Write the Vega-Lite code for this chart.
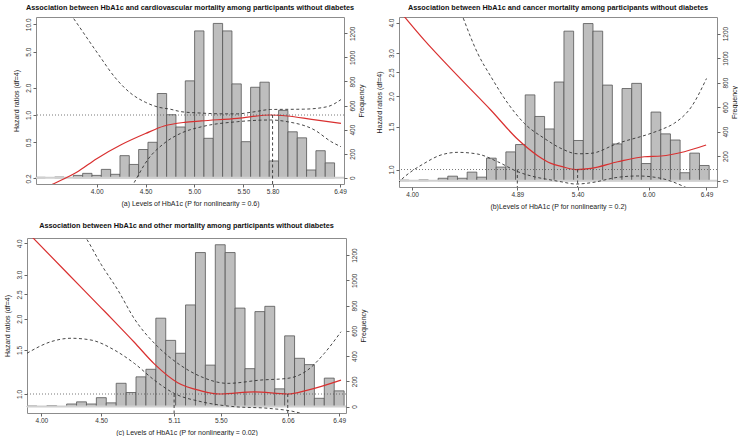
{
"$schema":"https://vega.github.io/schema/vega-lite/v6.json",
"padding":{"left":2,"top":3,"right":0,"bottom":0},
"background":"white",
"config":{
 "view":{"stroke":"#8c8c8c","strokeWidth":1},
 "font":"Liberation Sans",
 "axis":{"labelFont":"Liberation Sans","titleFont":"Liberation Sans","labelFontSize":6.5,"titleFontSize":7,"titleFontWeight":"normal","labelColor":"#333333","titleColor":"#222222","tickColor":"#666666","tickSize":3,"domain":false,"grid":false,"minExtent":0,"labelOverlap":false,"labelFlush":false},
 "title":{"font":"Liberation Sans","fontSize":7.3,"fontWeight":"bold","color":"#111111","anchor":"middle","frame":"group"}
},
"datasets":{
 "hist":[{"lo":3.3,"hi":3.4,"freq":4},{"lo":3.5,"hi":3.6,"freq":6},{"lo":3.7,"hi":3.8,"freq":20},{"lo":3.8,"hi":3.9,"freq":37},{"lo":3.9,"hi":4.0,"freq":20},{"lo":4.0,"hi":4.1,"freq":70},{"lo":4.1,"hi":4.2,"freq":29},{"lo":4.2,"hi":4.3,"freq":184},{"lo":4.3,"hi":4.4,"freq":111},{"lo":4.4,"hi":4.5,"freq":235},{"lo":4.5,"hi":4.6,"freq":295},{"lo":4.6,"hi":4.7,"freq":700},{"lo":4.7,"hi":4.8,"freq":524},{"lo":4.8,"hi":4.9,"freq":422},{"lo":4.9,"hi":5.0,"freq":805},{"lo":5.0,"hi":5.1,"freq":1220},{"lo":5.1,"hi":5.2,"freq":328},{"lo":5.2,"hi":5.3,"freq":1282},{"lo":5.3,"hi":5.4,"freq":1220},{"lo":5.4,"hi":5.5,"freq":780},{"lo":5.5,"hi":5.6,"freq":300},{"lo":5.6,"hi":5.7,"freq":752},{"lo":5.7,"hi":5.8,"freq":794},{"lo":5.8,"hi":5.9,"freq":140},{"lo":5.9,"hi":6.0,"freq":560},{"lo":6.0,"hi":6.1,"freq":382},{"lo":6.1,"hi":6.2,"freq":332},{"lo":6.2,"hi":6.3,"freq":65},{"lo":6.3,"hi":6.4,"freq":225},{"lo":6.4,"hi":6.5,"freq":124}],
 "zero":[{"freq":0}],
 "knots":[{"p":"a","x":5.80,"top":1,"bottom":0.1},{"p":"b","x":4.89,"top":1,"bottom":0.5},{"p":"b","x":5.40,"top":1,"bottom":0.5},{"p":"c","x":5.11,"top":1,"bottom":0.5},{"p":"c","x":6.06,"top":1,"bottom":0.5}],
 "curves":[
  {"p":"a","s":"est","x":3.40,"hr":0.145},{"p":"a","s":"est","x":3.566,"hr":0.176},{"p":"a","s":"est","x":3.80,"hr":0.235},{"p":"a","s":"est","x":4.00,"hr":0.33},{"p":"a","s":"est","x":4.25,"hr":0.47},{"p":"a","s":"est","x":4.50,"hr":0.625},{"p":"a","s":"est","x":4.69,"hr":0.756},{"p":"a","s":"est","x":4.90,"hr":0.83},{"p":"a","s":"est","x":5.07,"hr":0.86},{"p":"a","s":"est","x":5.44,"hr":0.92},{"p":"a","s":"est","x":5.78,"hr":1.0},{"p":"a","s":"est","x":5.95,"hr":0.975},{"p":"a","s":"est","x":6.20,"hr":0.897},{"p":"a","s":"est","x":6.50,"hr":0.81},
  {"p":"a","s":"upper","x":3.70,"hr":14.5},{"p":"a","s":"upper","x":3.754,"hr":12.0},{"p":"a","s":"upper","x":4.01,"hr":4.79},{"p":"a","s":"upper","x":4.20,"hr":2.5},{"p":"a","s":"upper","x":4.35,"hr":1.73},{"p":"a","s":"upper","x":4.50,"hr":1.38},{"p":"a","s":"upper","x":4.62,"hr":1.23},{"p":"a","s":"upper","x":4.76,"hr":1.155},{"p":"a","s":"upper","x":4.86,"hr":1.09},{"p":"a","s":"upper","x":5.07,"hr":1.05},{"p":"a","s":"upper","x":5.30,"hr":1.03},{"p":"a","s":"upper","x":5.44,"hr":1.03},{"p":"a","s":"upper","x":5.60,"hr":1.08},{"p":"a","s":"upper","x":5.78,"hr":1.15},{"p":"a","s":"upper","x":6.12,"hr":1.16},{"p":"a","s":"upper","x":6.36,"hr":1.235},{"p":"a","s":"upper","x":6.50,"hr":1.48},
  {"p":"a","s":"lower","x":4.30,"hr":0.125},{"p":"a","s":"lower","x":4.38,"hr":0.177},{"p":"a","s":"lower","x":4.52,"hr":0.319},{"p":"a","s":"lower","x":4.69,"hr":0.487},{"p":"a","s":"lower","x":4.86,"hr":0.628},{"p":"a","s":"lower","x":5.08,"hr":0.745},{"p":"a","s":"lower","x":5.44,"hr":0.844},{"p":"a","s":"lower","x":5.78,"hr":0.881},{"p":"a","s":"lower","x":5.95,"hr":0.844},{"p":"a","s":"lower","x":6.23,"hr":0.683},{"p":"a","s":"lower","x":6.40,"hr":0.508},{"p":"a","s":"lower","x":6.50,"hr":0.447},
  {"p":"b","s":"est","x":3.88,"hr":4.55},{"p":"b","s":"est","x":4.103,"hr":3.39},{"p":"b","s":"est","x":4.386,"hr":2.42},{"p":"b","s":"est","x":4.667,"hr":1.75},{"p":"b","s":"est","x":4.893,"hr":1.33},{"p":"b","s":"est","x":5.062,"hr":1.14},{"p":"b","s":"est","x":5.175,"hr":1.06},{"p":"b","s":"est","x":5.26,"hr":1.03},{"p":"b","s":"est","x":5.386,"hr":1.0},{"p":"b","s":"est","x":5.513,"hr":1.011},{"p":"b","s":"est","x":5.739,"hr":1.076},{"p":"b","s":"est","x":5.964,"hr":1.128},{"p":"b","s":"est","x":6.106,"hr":1.136},{"p":"b","s":"est","x":6.303,"hr":1.183},{"p":"b","s":"est","x":6.487,"hr":1.26},
  {"p":"b","s":"upper","x":4.40,"hr":4.6},{"p":"b","s":"upper","x":4.428,"hr":4.23},{"p":"b","s":"upper","x":4.555,"hr":2.99},{"p":"b","s":"upper","x":4.667,"hr":2.40},{"p":"b","s":"upper","x":4.809,"hr":1.87},{"p":"b","s":"upper","x":4.949,"hr":1.546},{"p":"b","s":"upper","x":5.118,"hr":1.342},{"p":"b","s":"upper","x":5.26,"hr":1.22},{"p":"b","s":"upper","x":5.40,"hr":1.16},{"p":"b","s":"upper","x":5.513,"hr":1.165},{"p":"b","s":"upper","x":5.739,"hr":1.28},{"p":"b","s":"upper","x":6.021,"hr":1.407},{"p":"b","s":"upper","x":6.11,"hr":1.46},{"p":"b","s":"upper","x":6.22,"hr":1.55},{"p":"b","s":"upper","x":6.36,"hr":1.80},{"p":"b","s":"upper","x":6.49,"hr":2.36},
  {"p":"b","s":"lower","x":3.88,"hr":0.88},{"p":"b","s":"lower","x":3.906,"hr":0.906},{"p":"b","s":"lower","x":4.103,"hr":1.06},{"p":"b","s":"lower","x":4.244,"hr":1.147},{"p":"b","s":"lower","x":4.386,"hr":1.176},{"p":"b","s":"lower","x":4.555,"hr":1.157},{"p":"b","s":"lower","x":4.724,"hr":1.076},{"p":"b","s":"lower","x":4.893,"hr":0.98},{"p":"b","s":"lower","x":5.034,"hr":0.934},{"p":"b","s":"lower","x":5.175,"hr":0.906},{"p":"b","s":"lower","x":5.26,"hr":0.891},{"p":"b","s":"lower","x":5.386,"hr":0.872},{"p":"b","s":"lower","x":5.513,"hr":0.883},{"p":"b","s":"lower","x":5.739,"hr":0.929},{"p":"b","s":"lower","x":5.908,"hr":0.941},{"p":"b","s":"lower","x":6.106,"hr":0.92},{"p":"b","s":"lower","x":6.303,"hr":0.85},{"p":"b","s":"lower","x":6.49,"hr":0.76},
  {"p":"c","s":"est","x":3.88,"hr":4.45},{"p":"c","s":"est","x":4.22,"hr":3.03},{"p":"c","s":"est","x":4.50,"hr":2.21},{"p":"c","s":"est","x":4.638,"hr":1.89},{"p":"c","s":"est","x":4.777,"hr":1.61},{"p":"c","s":"est","x":4.944,"hr":1.32},{"p":"c","s":"est","x":5.14,"hr":1.11},{"p":"c","s":"est","x":5.335,"hr":1.03},{"p":"c","s":"est","x":5.50,"hr":1.0},{"p":"c","s":"est","x":5.78,"hr":1.02},{"p":"c","s":"est","x":6.06,"hr":1.0},{"p":"c","s":"est","x":6.227,"hr":1.037},{"p":"c","s":"est","x":6.505,"hr":1.137},
  {"p":"c","s":"upper","x":4.33,"hr":4.5},{"p":"c","s":"upper","x":4.373,"hr":4.2},{"p":"c","s":"upper","x":4.499,"hr":3.3},{"p":"c","s":"upper","x":4.64,"hr":2.6},{"p":"c","s":"upper","x":4.777,"hr":2.0},{"p":"c","s":"upper","x":4.973,"hr":1.546},{"p":"c","s":"upper","x":5.14,"hr":1.326},{"p":"c","s":"upper","x":5.335,"hr":1.173},{"p":"c","s":"upper","x":5.558,"hr":1.103},{"p":"c","s":"upper","x":5.836,"hr":1.137},{"p":"c","s":"upper","x":6.06,"hr":1.155},{"p":"c","s":"upper","x":6.227,"hr":1.247},{"p":"c","s":"upper","x":6.366,"hr":1.454},{"p":"c","s":"upper","x":6.505,"hr":1.773},
  {"p":"c","s":"lower","x":3.88,"hr":1.455},{"p":"c","s":"lower","x":4.08,"hr":1.618},{"p":"c","s":"lower","x":4.248,"hr":1.67},{"p":"c","s":"lower","x":4.415,"hr":1.643},{"p":"c","s":"lower","x":4.61,"hr":1.499},{"p":"c","s":"lower","x":4.777,"hr":1.326},{"p":"c","s":"lower","x":4.944,"hr":1.137},{"p":"c","s":"lower","x":5.11,"hr":1.006},{"p":"c","s":"lower","x":5.335,"hr":0.932},{"p":"c","s":"lower","x":5.613,"hr":0.89},{"p":"c","s":"lower","x":5.893,"hr":0.877},{"p":"c","s":"lower","x":6.115,"hr":0.85},{"p":"c","s":"lower","x":6.30,"hr":0.80},{"p":"c","s":"lower","x":6.50,"hr":0.74}
 ]
},
"spacing":11,
"vconcat":[
 {"hconcat":[
  {"width":9,"height":1,"view":{"stroke":null},"data":{"values":[{"v":0}]},"mark":{"type":"point","opacity":0},"encoding":{}},
  {"width":308,"height":167,
   "title":{"text":"Association between HbA1c and cardiovascular mortality among  participants without diabetes","offset":6},
   "layer":[
    {"layer":[
      {"data":{"name":"hist"},"mark":{"type":"rect","fill":"#bebebe","stroke":"#555555","strokeWidth":0.8},
       "encoding":{"x":{"field":"lo","type":"quantitative","scale":{"domain":[3.3,6.601],"nice":false,"zero":false},"axis":null},"x2":{"field":"hi"},
        "y":{"field":"freq","type":"quantitative","scale":{"domain":[-51.4,1335.4],"nice":false,"zero":false},"axis":{"orient":"right","values":[0,200,400,600,800,1000,1200],"format":"d","title":"Frequency","labelOverlap":false,"labelAngle":270,"labelAlign":"center","labelBaseline":"top","labelPadding":2,"titleAngle":270,"titleBaseline":"top","titlePadding":2}},"y2":{"datum":0}}},
      {"data":{"name":"zero"},"mark":{"type":"rule","color":"#d0d0d0","strokeWidth":2},"encoding":{"y":{"field":"freq","type":"quantitative","scale":{"domain":[-51.4,1335.4],"nice":false,"zero":false},"axis":{"orient":"right","values":[0,200,400,600,800,1000,1200],"format":"d","title":"Frequency","labelOverlap":false,"labelAngle":270,"labelAlign":"center","labelBaseline":"top","labelPadding":2,"titleAngle":270,"titleBaseline":"top","titlePadding":2}}}}
    ]},
    {"layer":[
      {"data":{"name":"curves"},"transform":[{"filter":"datum.p === 'a' && datum.s !== 'est'"}],
       "mark":{"type":"line","clip":true,"color":"#333333","strokeWidth":0.9,"strokeDash":[3,2.5],"interpolate":"monotone"},
       "encoding":{"x":{"field":"x","type":"quantitative","scale":{"domain":[3.379,6.531],"nice":false,"zero":false},"axis":{"values":[4,4.5,5,5.5,5.8,6.49],"format":".2f","title":"(a) Levels of HbA1c (P for nonlinearity = 0.6)","labelOverlap":false,"labelPadding":1,"titlePadding":5}},
        "y":{"field":"hr","type":"quantitative","scale":{"type":"log","domain":[0.1735,12.04],"nice":false},"axis":{"orient":"left","values":[0.2,0.5,1,2,5,10],"format":".1f","title":"Hazard ratios (df=4)","labelOverlap":false,"labelAngle":270,"labelAlign":"center","labelBaseline":"bottom","labelPadding":2,"titlePadding":6}},
        "detail":{"field":"s"}}},
      {"data":{"name":"curves"},"transform":[{"filter":"datum.p === 'a' && datum.s === 'est'"}],
       "mark":{"type":"line","clip":true,"color":"#d93030","strokeWidth":1.2,"interpolate":"monotone"},
       "encoding":{"x":{"field":"x","type":"quantitative","scale":{"domain":[3.379,6.531],"nice":false,"zero":false}},"y":{"field":"hr","type":"quantitative","scale":{"type":"log","domain":[0.1735,12.04],"nice":false}}}},
      {"data":{"values":[{"h":1}]},"mark":{"type":"rule","color":"#555555","strokeWidth":0.8,"strokeDash":[1,2]},
       "encoding":{"y":{"field":"h","type":"quantitative","scale":{"type":"log","domain":[0.1735,12.04],"nice":false}}}},
      {"data":{"name":"knots"},"transform":[{"filter":"datum.p === 'a'"}],"mark":{"type":"rule","clip":true,"color":"#333333","strokeWidth":0.9,"strokeDash":[3,2.5]},
       "encoding":{"x":{"field":"x","type":"quantitative","scale":{"domain":[3.379,6.531],"nice":false,"zero":false}},"y":{"field":"top","type":"quantitative","scale":{"type":"log","domain":[0.1735,12.04],"nice":false}},"y2":{"field":"bottom"}}}
    ]}
   ],
   "resolve":{"scale":{"x":"independent","y":"independent"}}
  },
  {"width":55,"height":1,"view":{"stroke":null},"data":{"values":[{"v":0}]},"mark":{"type":"point","opacity":0},"encoding":{}},
  {"width":318,"height":170,
   "title":{"text":"Association between HbA1c and cancer mortality among  participants without diabetes","offset":6},
   "layer":[
    {"layer":[
      {"data":{"name":"hist"},"mark":{"type":"rect","fill":"#bebebe","stroke":"#555555","strokeWidth":0.8},
       "encoding":{"x":{"field":"lo","type":"quantitative","scale":{"domain":[3.296,6.581],"nice":false,"zero":false},"axis":null},"x2":{"field":"hi"},
        "y":{"field":"freq","type":"quantitative","scale":{"domain":[-51.4,1335.4],"nice":false,"zero":false},"axis":{"orient":"right","values":[0,200,400,600,800,1000,1200],"format":"d","title":"Frequency","labelOverlap":false,"labelAngle":270,"labelAlign":"center","labelBaseline":"top","labelPadding":2,"titleAngle":270,"titleBaseline":"top","titlePadding":2}},"y2":{"datum":0}}},
      {"data":{"name":"zero"},"mark":{"type":"rule","color":"#d0d0d0","strokeWidth":2},"encoding":{"y":{"field":"freq","type":"quantitative","scale":{"domain":[-51.4,1335.4],"nice":false,"zero":false},"axis":{"orient":"right","values":[0,200,400,600,800,1000,1200],"format":"d","title":"Frequency","labelOverlap":false,"labelAngle":270,"labelAlign":"center","labelBaseline":"top","labelPadding":2,"titleAngle":270,"titleBaseline":"top","titlePadding":2}}}}
    ]},
    {"layer":[
      {"data":{"name":"curves"},"transform":[{"filter":"datum.p === 'b' && datum.s !== 'est'"}],
       "mark":{"type":"line","clip":true,"color":"#333333","strokeWidth":0.9,"strokeDash":[3,2.5],"interpolate":"monotone"},
       "encoding":{"x":{"field":"x","type":"quantitative","scale":{"domain":[3.889,6.579],"nice":false,"zero":false},"axis":{"values":[4,4.89,5.4,6,6.49],"format":".2f","title":"(b)Levels of HbA1c (P for nonlinearity = 0.2)","labelOverlap":false,"labelPadding":1,"titlePadding":5}},
        "y":{"field":"hr","type":"quantitative","scale":{"type":"log","domain":[0.848,4.217],"nice":false},"axis":{"orient":"left","values":[1,1.5,2,2.5,3,4],"format":".1f","title":"Hazard ratios (df=4)","labelOverlap":false,"labelAngle":270,"labelAlign":"center","labelBaseline":"bottom","labelPadding":2,"titlePadding":6}},
        "detail":{"field":"s"}}},
      {"data":{"name":"curves"},"transform":[{"filter":"datum.p === 'b' && datum.s === 'est'"}],
       "mark":{"type":"line","clip":true,"color":"#d93030","strokeWidth":1.2,"interpolate":"monotone"},
       "encoding":{"x":{"field":"x","type":"quantitative","scale":{"domain":[3.889,6.579],"nice":false,"zero":false}},"y":{"field":"hr","type":"quantitative","scale":{"type":"log","domain":[0.848,4.217],"nice":false}}}},
      {"data":{"values":[{"h":1}]},"mark":{"type":"rule","color":"#555555","strokeWidth":0.8,"strokeDash":[1,2]},
       "encoding":{"y":{"field":"h","type":"quantitative","scale":{"type":"log","domain":[0.848,4.217],"nice":false}}}},
      {"data":{"name":"knots"},"transform":[{"filter":"datum.p === 'b'"}],"mark":{"type":"rule","clip":true,"color":"#333333","strokeWidth":0.9,"strokeDash":[3,2.5]},
       "encoding":{"x":{"field":"x","type":"quantitative","scale":{"domain":[3.889,6.579],"nice":false,"zero":false}},"y":{"field":"top","type":"quantitative","scale":{"type":"log","domain":[0.848,4.217],"nice":false}},"y2":{"field":"bottom"}}}
    ]}
   ],
   "resolve":{"scale":{"x":"independent","y":"independent"}}
  }
 ],"spacing":0,"bounds":"flush"},
 {"width":319,"height":175,
  "title":{"text":"Association between HbA1c and other mortality among participants without diabetes","offset":9},
  "layer":[
   {"layer":[
     {"data":{"name":"hist"},"mark":{"type":"rect","fill":"#bebebe","stroke":"#555555","strokeWidth":0.8},
      "encoding":{"x":{"field":"lo","type":"quantitative","scale":{"domain":[3.3,6.519],"nice":false,"zero":false},"axis":null},"x2":{"field":"hi"},
       "y":{"field":"freq","type":"quantitative","scale":{"domain":[-51.4,1335.4],"nice":false,"zero":false},"axis":{"orient":"right","values":[0,200,400,600,800,1000,1200],"format":"d","title":"Frequency","labelOverlap":false,"labelAngle":270,"labelAlign":"center","labelBaseline":"top","labelPadding":2,"titleAngle":270,"titleBaseline":"top","titlePadding":2}},"y2":{"datum":0}}},
     {"data":{"name":"zero"},"mark":{"type":"rule","color":"#d0d0d0","strokeWidth":2},"encoding":{"y":{"field":"freq","type":"quantitative","scale":{"domain":[-51.4,1335.4],"nice":false,"zero":false},"axis":{"orient":"right","values":[0,200,400,600,800,1000,1200],"format":"d","title":"Frequency","labelOverlap":false,"labelAngle":270,"labelAlign":"center","labelBaseline":"top","labelPadding":2,"titleAngle":270,"titleBaseline":"top","titlePadding":2}}}}
   ]},
   {"layer":[
     {"data":{"name":"curves"},"transform":[{"filter":"datum.p === 'c' && datum.s !== 'est'"}],
      "mark":{"type":"line","clip":true,"color":"#333333","strokeWidth":0.9,"strokeDash":[3,2.5],"interpolate":"monotone"},
      "encoding":{"x":{"field":"x","type":"quantitative","scale":{"domain":[3.88,6.547],"nice":false,"zero":false},"axis":{"values":[4,4.5,5.11,5.5,6.06,6.49],"format":".2f","title":"(c) Levels of HbA1c (P for nonlinearity = 0.02)","labelOverlap":false,"labelPadding":1,"titlePadding":5}},
       "y":{"field":"hr","type":"quantitative","scale":{"type":"log","domain":[0.8397,4.2],"nice":false},"axis":{"orient":"left","values":[1,1.5,2,2.5,3,4],"format":".1f","title":"Hazard ratios (df=4)","labelOverlap":false,"labelAngle":270,"labelAlign":"center","labelBaseline":"bottom","labelPadding":2,"titlePadding":6}},
       "detail":{"field":"s"}}},
     {"data":{"name":"curves"},"transform":[{"filter":"datum.p === 'c' && datum.s === 'est'"}],
      "mark":{"type":"line","clip":true,"color":"#d93030","strokeWidth":1.2,"interpolate":"monotone"},
      "encoding":{"x":{"field":"x","type":"quantitative","scale":{"domain":[3.88,6.547],"nice":false,"zero":false}},"y":{"field":"hr","type":"quantitative","scale":{"type":"log","domain":[0.8397,4.2],"nice":false}}}},
     {"data":{"values":[{"h":1}]},"mark":{"type":"rule","color":"#555555","strokeWidth":0.8,"strokeDash":[1,2]},
      "encoding":{"y":{"field":"h","type":"quantitative","scale":{"type":"log","domain":[0.8397,4.2],"nice":false}}}},
     {"data":{"name":"knots"},"transform":[{"filter":"datum.p === 'c'"}],"mark":{"type":"rule","clip":true,"color":"#333333","strokeWidth":0.9,"strokeDash":[3,2.5]},
      "encoding":{"x":{"field":"x","type":"quantitative","scale":{"domain":[3.88,6.547],"nice":false,"zero":false}},"y":{"field":"top","type":"quantitative","scale":{"type":"log","domain":[0.8397,4.2],"nice":false}},"y2":{"field":"bottom"}}}
   ]}
  ],
  "resolve":{"scale":{"x":"independent","y":"independent"}}
 }
]
}
